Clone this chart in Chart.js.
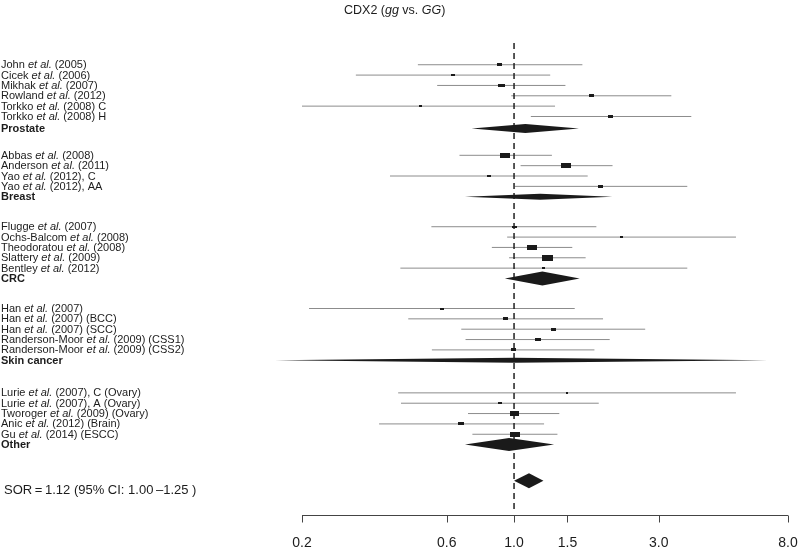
<!DOCTYPE html>
<html>
<head>
<meta charset="utf-8">
<script src="https://cdn.jsdelivr.net/npm/chart.js@4.4.1/dist/chart.umd.min.js"></script>
<style>
html, body { margin: 0; padding: 0; background: #fff; }
#wrap { width: 800px; height: 550px; }
</style>
</head>
<body>
<div id="wrap"><canvas id="forest" width="800" height="550"></canvas></div>
<script>
// studies, top to bottom
var studyLabels = [
  'John et al. (2005)', 'Cicek et al. (2006)', 'Mikhak et al. (2007)', 'Rowland et al. (2012)',
  'Torkko et al. (2008) C', 'Torkko et al. (2008) H',
  'Abbas et al. (2008)', 'Anderson et al. (2011)', 'Yao et al. (2012), C', 'Yao et al. (2012), AA',
  'Flugge et al. (2007)', 'Ochs-Balcom et al. (2008)', 'Theodoratou et al. (2008)', 'Slattery et al. (2009)', 'Bentley et al. (2012)',
  'Han et al. (2007)', 'Han et al. (2007) (BCC)', 'Han et al. (2007) (SCC)',
  'Randerson-Moor et al. (2009) (CSS1)', 'Randerson-Moor et al. (2009) (CSS2)',
  'Lurie et al. (2007), C (Ovary)', 'Lurie et al. (2007), A (Ovary)', 'Tworoger et al. (2009) (Ovary)',
  'Anic et al. (2012) (Brain)', 'Gu et al. (2014) (ESCC)'
]
var studyOR = [0.896, 0.628, 0.908, 1.797, 0.492, 2.085,
  0.937, 1.488, 0.826, 1.928,
  1.0, 2.26, 1.145, 1.285, 1.252,
  0.579, 0.937, 1.347, 1.195, 0.995,
  1.492, 0.898, 1.0, 0.670, 1.008]
var studyLow = [0.482, 0.301, 0.558, 0.979, 0.178, 1.136,
  0.661, 1.051, 0.390, 1.005,
  0.534, 0.949, 0.845, 0.963, 0.422,
  0.211, 0.448, 0.670, 0.692, 0.536,
  0.415, 0.424, 0.705, 0.359, 0.729]
var studyHigh = [1.680, 1.316, 1.477, 3.30, 1.365, 3.84,
  1.333, 2.112, 1.749, 3.725,
  1.868, 5.39, 1.556, 1.722, 3.725,
  1.585, 1.965, 2.706, 2.067, 1.841,
  5.39, 1.902, 1.41, 1.256, 1.39]
var studyWeight = [5.3, 4.3, 6.7, 5, 2.5, 5.3,
  10.3, 10, 4.3, 5.3,
  4.7, 3, 10, 11, 2.7,
  4, 5.3, 5.3, 6.3, 5.3,
  2, 4, 9, 6, 10]

var groupNames = ['Prostate', 'Breast', 'CRC', 'Skin cancer', 'Other']
var groupSizes = [6, 4, 5, 5, 5]
var groupOR = [1.09, 1.22, 1.24, 1.0, 0.963]
var groupLow = [0.725, 0.689, 0.933, 0.163, 0.689]
var groupHigh = [1.637, 2.108, 1.646, 6.85, 1.355]

var overallOR = [1.12]
var overallLow = [1.00]
var overallHigh = [1.25]

var xTicks = [0.2, 0.6, 1.0, 1.5, 3.0, 8.0]

// layout bits (pixels / row units)
var groupGap = [2.75, 2.9, 2.9, 3.15]
var overallGap = 3.5
var diamondPx = [9, 6, 14, 5, 13]
var overallDiamondPx = 15
var FONT = '"Liberation Sans", Arial, Helvetica, sans-serif'
Chart.defaults.font.family = FONT

// row positions
var studyRow = [], groupRow = []
var r = 0
for (var g = 0; g < groupNames.length; g++) {
  for (var i = 0; i < groupSizes[g]; i++) { studyRow.push(r); r++ }
  groupRow.push(g === 0 ? r + 0.15 : r)
  r += groupGap[g] || 0
}
var overallRow = groupRow[groupRow.length - 1] + overallGap
var yMin = -2.1, yMax = 43.5

// CI segments, broken by null points
var ciData = []
for (var i = 0; i < studyLabels.length; i++) {
  ciData.push({x: studyLow[i], y: studyRow[i]})
  ciData.push({x: studyHigh[i], y: studyRow[i]})
  ciData.push({x: studyOR[i], y: null})
}

// little filled boxes used as point styles
var boxes = studyWeight.map(function (w) {
  var c = document.createElement('canvas')
  c.width = Math.max(2, Math.round(w))
  c.height = Math.max(2, Math.round(w * 0.52))
  var cx = c.getContext('2d')
  cx.fillStyle = '#1a1a1a'
  cx.fillRect(0, 0, c.width, c.height)
  return c
})

function drawSegments(ctx, parts, x, y, size) {
  parts.forEach(function (p) {
    ctx.font = (p.style || '') + ' ' + size + 'px ' + FONT
    ctx.fillText(p.t, x, y)
    x += ctx.measureText(p.t).width
  })
}

function splitEtAl(s) {
  var k = s.indexOf('et al.')
  if (k < 0) return [{t: s}]
  return [{t: s.slice(0, k)}, {t: 'et al.', style: 'italic'}, {t: s.slice(k + 6)}]
}

var forestPlugin = {
  id: 'forest',
  afterDatasetsDraw: function (chart) {
    var ctx = chart.ctx, xs = chart.scales.x, ys = chart.scales.y
    ctx.save()
    ctx.fillStyle = '#1a1a1a'
    function diamond(lo, est, hi, row, hPx) {
      var y = ys.getPixelForValue(row)
      ctx.beginPath()
      ctx.moveTo(xs.getPixelForValue(lo), y)
      ctx.lineTo(xs.getPixelForValue(est), y - hPx / 2)
      ctx.lineTo(xs.getPixelForValue(hi), y)
      ctx.lineTo(xs.getPixelForValue(est), y + hPx / 2)
      ctx.closePath()
      ctx.fill()
    }
    for (var g = 0; g < groupNames.length; g++) {
      diamond(groupLow[g], groupOR[g], groupHigh[g], groupRow[g], diamondPx[g])
    }
    diamond(overallLow[0], overallOR[0], overallHigh[0], overallRow, overallDiamondPx)

    // axis line with downward ticks at the tick values
    var yb = Math.round(chart.chartArea.bottom) + 0.5
    ctx.strokeStyle = '#444'
    ctx.lineWidth = 1
    ctx.beginPath()
    ctx.moveTo(xs.getPixelForValue(xTicks[0]), yb)
    ctx.lineTo(xs.getPixelForValue(xTicks[xTicks.length - 1]), yb)
    xTicks.forEach(function (v) {
      var px = Math.round(xs.getPixelForValue(v)) + 0.5
      ctx.moveTo(px, yb)
      ctx.lineTo(px, yb + 7)
    })
    ctx.stroke()
    ctx.restore()
  },
  afterDraw: function (chart) {
    var ctx = chart.ctx, ys = chart.scales.y
    ctx.save()
    ctx.fillStyle = '#1c1c1c'
    ctx.textBaseline = 'middle'
    ctx.textAlign = 'left'
    // title
    drawSegments(ctx, [{t: 'CDX2 ('}, {t: 'gg', style: 'italic'}, {t: ' vs. '}, {t: 'GG', style: 'italic'}, {t: ')'}], 344, 11, 12.5)
    // study labels
    for (var i = 0; i < studyLabels.length; i++) {
      drawSegments(ctx, splitEtAl(studyLabels[i]), 1, ys.getPixelForValue(studyRow[i]) + 0.5, 11)
    }
    for (var g = 0; g < groupNames.length; g++) {
      drawSegments(ctx, [{t: groupNames[g], style: 'bold'}], 1, ys.getPixelForValue(groupRow[g]) + 0.5, 11)
    }
    var sor = 'SOR\u2009=\u2009' + overallOR[0].toFixed(2) + ' (95% CI: ' + overallLow[0].toFixed(2) +
      '\u2009\u2013' + overallHigh[0].toFixed(2) + ' )'
    drawSegments(ctx, [{t: sor}], 4, ys.getPixelForValue(overallRow) + 10, 13)
    ctx.restore()
  }
}

new Chart(document.getElementById('forest'), {
  type: 'scatter',
  data: {
    datasets: [
      {
        type: 'scatter',
        data: studyOR.map(function (v, i) { return {x: v, y: studyRow[i]} }),
        pointStyle: function (c) { return boxes[c.dataIndex] },
        pointRadius: 3,
        order: 0
      },
      {
        type: 'line',
        data: [{x: 1, y: yMin}, {x: 1, y: yMax - 0.2}],
        borderColor: '#222',
        borderWidth: 1.5,
        borderDash: [6, 4],
        pointRadius: 0,
        order: 1
      },
      {
        type: 'line',
        data: ciData,
        borderColor: '#8c8c8c',
        borderWidth: 1,
        pointRadius: 0,
        spanGaps: false,
        order: 2
      }
    ]
  },
  options: {
    responsive: false,
    animation: false,
    events: [],
    layout: { padding: { left: 302, right: 12, top: 43, bottom: 0 } },
    plugins: { legend: { display: false }, tooltip: { enabled: false } },
    scales: {
      x: {
        type: 'logarithmic',
        min: 0.2,
        max: 8,
        afterBuildTicks: function (ax) { ax.ticks = xTicks.map(function (v) { return {value: v} }) },
        afterFit: function (ax) {
          ax.height = 35
          ax.paddingLeft = 0
          ax.paddingRight = 0
        },
        ticks: {
          callback: function (v) { return Number(v).toFixed(1) },
          font: { size: 14 },
          color: '#1c1c1c',
          padding: 13,
          maxRotation: 0,
          autoSkip: false
        },
        grid: { display: false, drawOnChartArea: false, drawTicks: true, tickLength: 7 },
        border: { display: false }
      },
      y: {
        type: 'linear',
        reverse: true,
        min: yMin,
        max: yMax,
        display: false
      }
    }
  },
  plugins: [forestPlugin]
})
</script>
</body>
</html>
